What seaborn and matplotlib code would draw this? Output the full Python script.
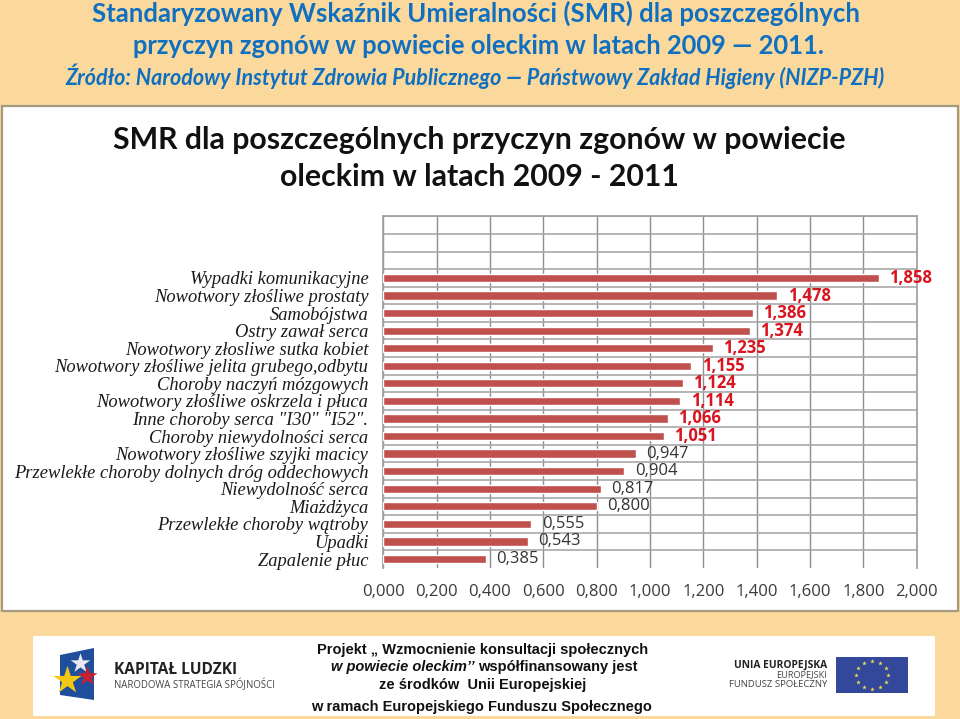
import matplotlib
matplotlib.use("Agg")
import matplotlib.pyplot as plt
from matplotlib.patches import Rectangle, Polygon
import numpy as np
import pandas as pd
import seaborn as sns

przyczyny = ['Wypadki komunikacyjne', 'Nowotwory złośliwe prostaty', 'Samobójstwa',
             'Ostry zawał serca', 'Nowotwory złosliwe sutka kobiet',
             'Nowotwory złośliwe jelita grubego,odbytu', 'Choroby naczyń mózgowych',
             'Nowotwory złośliwe oskrzela i płuca', 'Inne choroby serca "I30" "I52".',
             'Choroby niewydolności serca', 'Nowotwory złośliwe szyjki macicy',
             'Przewlekłe choroby dolnych dróg oddechowych', 'Niewydolność serca',
             'Miażdżyca', 'Przewlekłe choroby wątroby', 'Upadki', 'Zapalenie płuc']
smr = [1.858, 1.478, 1.386, 1.374, 1.235, 1.155, 1.124, 1.114, 1.066,
       1.051, 0.947, 0.904, 0.817, 0.800, 0.555, 0.543, 0.385]
ticki = [0.0, 0.2, 0.4, 0.6, 0.8, 1.0, 1.2, 1.4, 1.6, 1.8, 2.0]

TLO = '#FBD89C'
NIEBIESKI = '#0F6FC0'
W, H = 960, 719

sns.set_theme(style="white")
fig = plt.figure(figsize=(9.6, 7.19), dpi=100, facecolor=TLO)

# warstwa w pikselach na tlo, ramke i logotypy
tlo = fig.add_axes([0, 0, 1, 1], zorder=0)
tlo.set_xlim(0, W)
tlo.set_ylim(H, 0)
tlo.axis('off')
tlo.add_patch(Rectangle((2, 106), 956, 505, fc='white', ec='#A49A80', lw=1.6))
tlo.add_patch(Rectangle((33, 636), 902, 80, fc='white', ec='none'))

tlo.text(476, 13, 'Standaryzowany Wskaźnik Umieralności (SMR) dla poszczególnych', family='Lato',
         fontsize=18.55, fontweight='bold', color=NIEBIESKI, ha='center', va='center')
tlo.text(478.5, 46, 'przyczyn zgonów w powiecie oleckim w latach 2009 — 2011.', family='Lato',
         fontsize=18.4, fontweight='bold', color=NIEBIESKI, ha='center', va='center')
tlo.text(475.5, 76, 'Źródło: Narodowy Instytut Zdrowia Publicznego — Państwowy Zakład Higieny (NIZP-PZH)',
         family='Lato', fontsize=15.5, fontweight='bold', fontstyle='italic', color=NIEBIESKI,
         ha='center', va='center')

tlo.text(479, 140, 'SMR dla poszczególnych przyczyn zgonów w powiecie', family='Lato',
         fontsize=21.8, fontweight='bold', color='#111111', ha='center', va='center')
tlo.text(479, 177, 'oleckim w latach 2009 - 2011', family='Lato',
         fontsize=21.8, fontweight='bold', color='#111111', ha='center', va='center')

# tekst projektu
stopka = [('Projekt „ Wzmocnienie konsultacji społecznych', 650),
          ('ze środków  Unii Europejskiej', 685),
          ('w ramach Europejskiego Funduszu Społecznego', 707)]
for linia, y in stopka:
    tlo.text(483 if y < 700 else 481, y, linia, family='Liberation Sans', fontsize=10.5,
             fontweight='bold', color='#111111', ha='center', va='center')
tlo.text(331, 667, 'w powiecie oleckim’’', family='Liberation Sans', fontsize=10.5,
         fontweight='bold', fontstyle='italic', color='#111111', va='center')
tlo.text(478, 667, 'współfinansowany jest', family='Liberation Sans', fontsize=10.5,
         fontweight='bold', color='#111111', va='center')

# logo Kapitał Ludzki
tlo.add_patch(Polygon([(60, 655), (94, 648), (94, 700), (60, 695)], fc='#1F4E9C', ec='none'))
tlo.scatter([80], [663], marker='*', s=220, color='#E8E8F0', linewidths=0, zorder=3)
tlo.scatter([87], [676], marker='*', s=230, color='#C8202F', linewidths=0, zorder=3)
tlo.scatter([67], [680], marker='*', s=450, color='#F2C811', linewidths=0, zorder=3)
tlo.text(114, 670.5, 'KAPITAŁ LUDZKI', family='Open Sans', fontsize=11.2, fontweight='bold',
         color='#222222', va='center')
tlo.text(114, 685, 'NARODOWA STRATEGIA SPÓJNOŚCI', family='Open Sans', fontsize=6.9,
         color='#444444', va='center')

# logo UE
tlo.text(827, 665.5, 'UNIA EUROPEJSKA', family='Open Sans', fontsize=7.4, fontweight='bold',
         color='#222222', ha='right', va='center')
tlo.text(827, 675, 'EUROPEJSKI', family='Open Sans', fontsize=6.6, color='#444444',
         ha='right', va='center')
tlo.text(827, 684.5, 'FUNDUSZ SPOŁECZNY', family='Open Sans', fontsize=6.8, color='#444444',
         ha='right', va='center')
tlo.add_patch(Rectangle((836, 657), 72, 36, fc='#33479B', ec='none'))
katy = np.arange(12) * np.pi / 6
tlo.scatter(872 + 16 * np.cos(katy), 675 + 14 * np.sin(katy), marker='*', s=12,
            color='#F0E050', linewidths=0, zorder=3)

# wykres: 3 puste wiersze u gory, jak w oryginale
x0, x1, y0, y1 = 383.3, 916.7, 216.5, 567.8
ax = fig.add_axes([x0 / W, 1 - y1 / H, (x1 - x0) / W, (y1 - y0) / H], zorder=1)
ax.patch.set_alpha(0)

df = pd.DataFrame({'przyczyna': przyczyny, 'smr': smr})
sns.barplot(data=df, x='smr', y='przyczyna', color='#C0504D', saturation=1, width=0.47, ax=ax, zorder=3)
ax.set_xlim(0, 2)
ax.set_ylim(16.5, -3.5)
ax.set_xlabel('')
ax.set_ylabel('')

ax.set_xticks(ticki)
ax.set_xticklabels([f'{t:.3f}'.replace('.', ',') for t in ticki], family='Open Sans',
                   fontsize=12, color='#3A3A3A')
ax.set_yticks(range(len(przyczyny)))
ax.set_yticklabels(przyczyny, family='Liberation Serif', fontstyle='italic', fontsize=13.3,
                   color='#1A1A1A')
ax.tick_params(axis='y', length=0, pad=10.8)
ax.tick_params(axis='x', length=3, width=1, color='#8E8E8E', pad=8.7)

# bez linii pod ostatnim wierszem
ax.set_yticks(np.arange(-3.5, 16), minor=True)
ax.tick_params(axis='y', which='minor', length=0)
ax.grid(True, axis='x', color='#8E8E8E', lw=1)
ax.grid(True, axis='y', which='minor', color='#A8A8A8', lw=1.2)
ax.set_axisbelow(True)
ax.spines['bottom'].set_visible(False)
for bok in ['left', 'top', 'right']:
    ax.spines[bok].set_color('#A0A0A0')

# wartosci powyzej 1 na czerwono
etykiety = [f'{v:.3f}'.replace('.', ',') for v in smr]
opisy = ax.bar_label(ax.containers[0], labels=etykiety, padding=7.5, family='Open Sans', fontsize=12)
for opis, v in zip(opisy, smr):
    if v > 1:
        opis.set_color('#D9141E')
        opis.set_fontweight('bold')
    else:
        opis.set_color('#333333')

fig.savefig('out.png', dpi=100, facecolor=TLO)
